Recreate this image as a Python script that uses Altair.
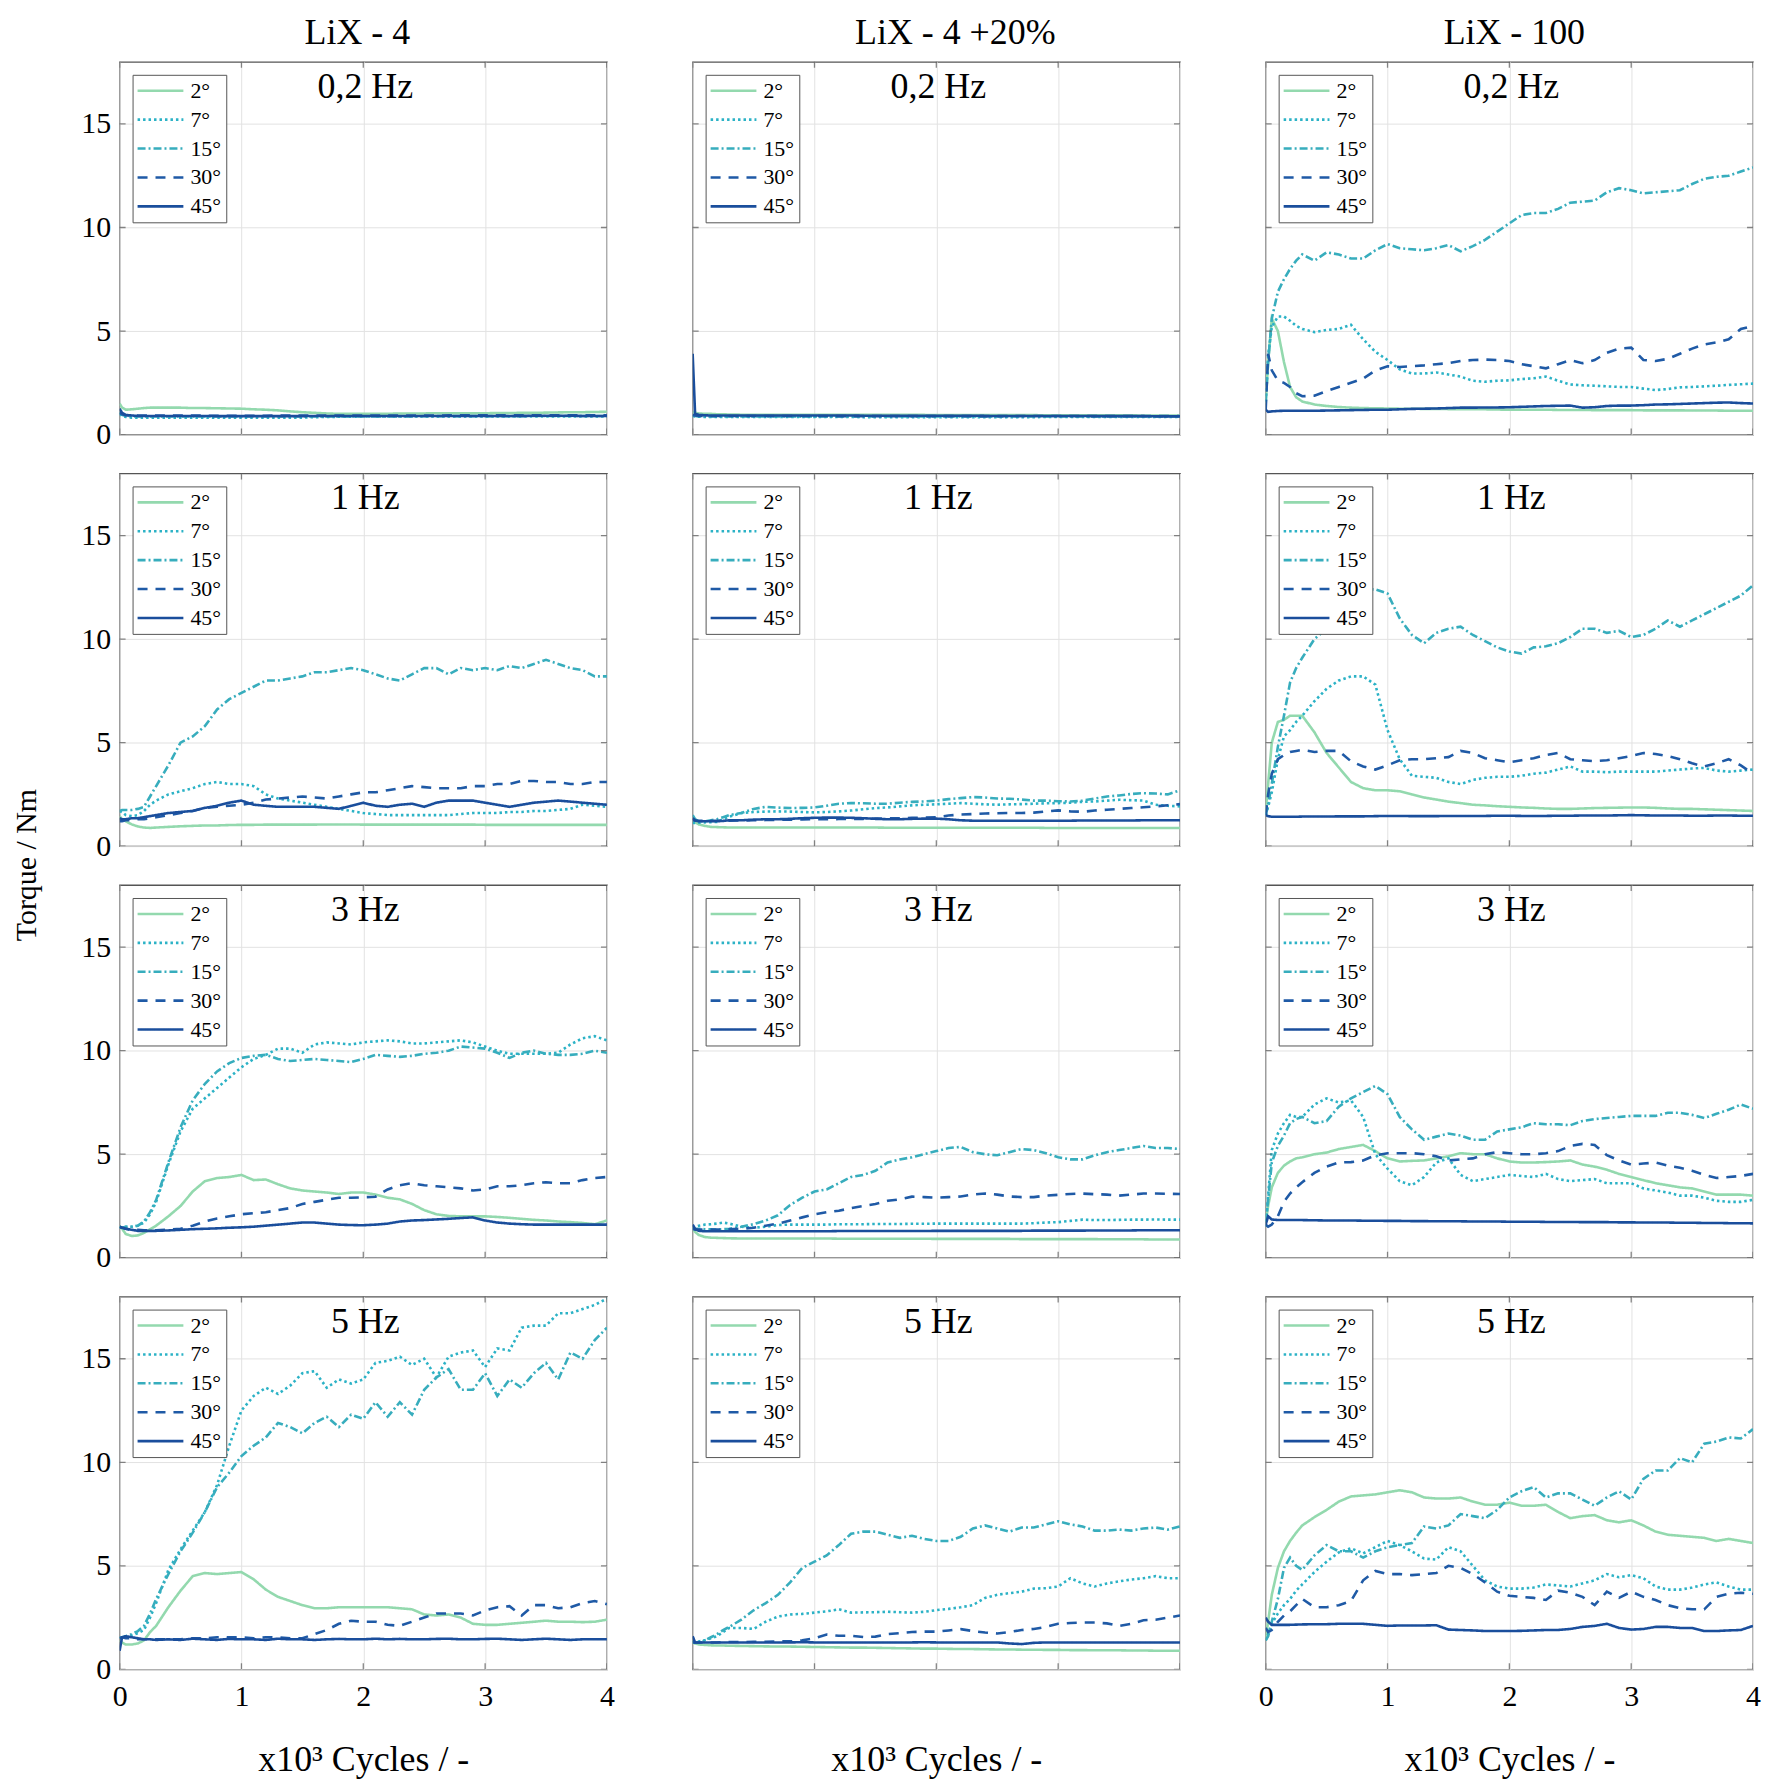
import altair as alt
import pandas as pd

FONT = "Liberation Serif"

# x positions (x10^3 cycles) shared by every series
X = [0, 0.02, 0.05, 0.1, 0.15, 0.2, 0.25, 0.3,
     0.4, 0.5, 0.6, 0.7, 0.8, 0.9, 1.0, 1.1, 1.2, 1.3, 1.4, 1.5, 1.6, 1.7, 1.8,
     1.9, 2.0, 2.1, 2.2, 2.3, 2.4, 2.5, 2.6, 2.7, 2.8, 2.9, 3.0, 3.1, 3.2, 3.3,
     3.4, 3.5, 3.6, 3.7, 3.8, 3.9, 4.0]

MATERIALS = ["LiX - 4", "LiX - 4 +20%", "LiX - 100"]
FREQS = ["0,2 Hz", "1 Hz", "3 Hz", "5 Hz"]
ANGLES = ["2°", "7°", "15°", "30°", "45°"]
COLORS = ["#93d9ae", "#2bb2c6", "#37adbd", "#1f5aa6", "#1a4e9c"]
DASHES = [[1, 0], [2.5, 3], [8, 3, 2, 3], [10, 8], [1, 0]]
Y_TICKS = [0, 5, 10, 15]
X_TICKS = [0, 1, 2, 3, 4]

# ---------------- LiX - 4, 0,2 Hz ----------------
A_F02_2 = [1.5, 1.3, 1.2, 1.22, 1.25, 1.28, 1.3, 1.3,
           1.3, 1.3, 1.28, 1.28, 1.27, 1.26, 1.25, 1.22, 1.2, 1.17, 1.12, 1.08, 1.05, 1.02, 1.0,
           1.0, 1.0, 1.0, 1.0, 1.02, 1.02, 1.02, 1.03, 1.03, 1.03, 1.03, 1.03, 1.04, 1.04, 1.05,
           1.05, 1.06, 1.07, 1.08, 1.08, 1.09, 1.1]
A_F02_7 = [1.0, 0.9, 0.85, 0.82, 0.82, 0.82, 0.82, 0.82,
           0.82, 0.82, 0.81, 0.81, 0.81, 0.81, 0.81, 0.81, 0.82, 0.82, 0.82, 0.82, 0.84, 0.85, 0.86,
           0.86, 0.87, 0.87, 0.87, 0.87, 0.88, 0.88, 0.88, 0.88, 0.88, 0.88, 0.88, 0.88, 0.88, 0.88,
           0.88, 0.88, 0.88, 0.88, 0.88, 0.88, 0.88]
A_F02_15 = [1.1, 0.95, 0.9, 0.88, 0.88, 0.88, 0.88, 0.88,
            0.88, 0.88, 0.87, 0.87, 0.87, 0.87, 0.87, 0.87, 0.87, 0.87, 0.87, 0.88, 0.88, 0.88, 0.88,
            0.88, 0.88, 0.88, 0.88, 0.88, 0.88, 0.89, 0.89, 0.89, 0.89, 0.89, 0.89, 0.89, 0.89, 0.89,
            0.9, 0.9, 0.9, 0.9, 0.9, 0.9, 0.9]
A_F02_30 = [1.05, 0.98, 0.93, 0.92, 0.92, 0.92, 0.92, 0.92,
            0.92, 0.92, 0.92, 0.91, 0.91, 0.91, 0.91, 0.91, 0.91, 0.92, 0.92, 0.92, 0.92, 0.92, 0.92,
            0.92, 0.92, 0.92, 0.92, 0.92, 0.92, 0.92, 0.92, 0.93, 0.93, 0.93, 0.93, 0.93, 0.93, 0.93,
            0.93, 0.93, 0.93, 0.93, 0.93, 0.93, 0.93]
A_F02_45 = [1.25, 1.05, 0.95, 0.92, 0.9, 0.9, 0.9, 0.9,
            0.9, 0.9, 0.9, 0.9, 0.89, 0.89, 0.89, 0.89, 0.89, 0.89, 0.89, 0.89, 0.9, 0.9, 0.9,
            0.9, 0.9, 0.9, 0.9, 0.9, 0.9, 0.9, 0.9, 0.9, 0.9, 0.9, 0.9, 0.9, 0.9, 0.9,
            0.91, 0.91, 0.91, 0.91, 0.9, 0.9, 0.9]

# ---------------- LiX - 4 +20%, 0,2 Hz ----------------
B_F02_2 = [1.1, 1.05, 1.02, 1.0, 1.0, 0.98, 0.98, 0.97,
           0.96, 0.96, 0.96, 0.96, 0.96, 0.96, 0.96, 0.95, 0.95, 0.95, 0.95, 0.95, 0.95, 0.95, 0.95,
           0.95, 0.94, 0.94, 0.94, 0.94, 0.94, 0.94, 0.94, 0.94, 0.94, 0.93, 0.93, 0.93, 0.93, 0.93,
           0.93, 0.93, 0.93, 0.92, 0.92, 0.92, 0.92]
B_F02_7 = [0.9, 0.88, 0.86, 0.85, 0.85, 0.85, 0.85, 0.85,
           0.85, 0.85, 0.85, 0.85, 0.85, 0.85, 0.85, 0.85, 0.85, 0.85, 0.84, 0.84, 0.84, 0.84, 0.84,
           0.84, 0.84, 0.84, 0.84, 0.84, 0.84, 0.84, 0.84, 0.84, 0.84, 0.85, 0.85, 0.85, 0.85, 0.85,
           0.85, 0.85, 0.85, 0.85, 0.85, 0.85, 0.85]
B_F02_15 = [0.95, 0.9, 0.88, 0.88, 0.88, 0.88, 0.88, 0.88,
            0.88, 0.88, 0.88, 0.87, 0.87, 0.87, 0.87, 0.87, 0.87, 0.87, 0.87, 0.87, 0.87, 0.87, 0.87,
            0.87, 0.87, 0.87, 0.87, 0.87, 0.88, 0.88, 0.88, 0.88, 0.88, 0.88, 0.88, 0.88, 0.88, 0.88,
            0.88, 0.88, 0.88, 0.88, 0.88, 0.88, 0.88]
B_F02_30 = [0.95, 0.92, 0.9, 0.9, 0.9, 0.9, 0.9, 0.9,
            0.9, 0.9, 0.9, 0.9, 0.9, 0.9, 0.9, 0.9, 0.89, 0.89, 0.89, 0.89, 0.89, 0.89, 0.89,
            0.89, 0.89, 0.89, 0.89, 0.89, 0.89, 0.89, 0.9, 0.9, 0.9, 0.9, 0.9, 0.9, 0.9, 0.9,
            0.9, 0.9, 0.9, 0.9, 0.9, 0.9, 0.9]
B_F02_45 = [3.9, 1.0, 0.95, 0.93, 0.92, 0.92, 0.92, 0.92,
            0.92, 0.92, 0.92, 0.92, 0.92, 0.92, 0.92, 0.92, 0.92, 0.92, 0.91, 0.91, 0.91, 0.91, 0.91,
            0.91, 0.91, 0.91, 0.91, 0.91, 0.9, 0.9, 0.9, 0.9, 0.9, 0.9, 0.9, 0.9, 0.9, 0.89,
            0.89, 0.89, 0.89, 0.89, 0.88, 0.88, 0.88]

# ---------------- LiX - 100, 0,2 Hz ----------------
C_F02_2 = [1.5, 3.5, 5.6, 5.0, 3.5, 2.3, 1.8, 1.6,
           1.45, 1.38, 1.33, 1.3, 1.28, 1.27, 1.26, 1.25, 1.25, 1.24, 1.24, 1.23, 1.23, 1.22, 1.22,
           1.21, 1.2, 1.2, 1.2, 1.2, 1.19, 1.19, 1.19, 1.18, 1.18, 1.18, 1.18, 1.17, 1.17, 1.17,
           1.17, 1.16, 1.16, 1.16, 1.15, 1.15, 1.15]
C_F02_7 = [1.6, 3.8, 5.2, 5.7, 5.7, 5.5, 5.25, 5.1,
           4.95, 5.05, 5.1, 5.3, 4.6, 4.0, 3.6, 3.15, 2.95, 2.95, 3.0, 2.9, 2.8, 2.6, 2.55,
           2.6, 2.62, 2.68, 2.72, 2.8, 2.6, 2.42, 2.38, 2.36, 2.33, 2.3, 2.3, 2.22, 2.15, 2.2,
           2.28, 2.3, 2.33, 2.36, 2.4, 2.43, 2.46]
C_F02_15 = [1.6, 3.5, 5.6, 6.9, 7.5, 8.0, 8.4, 8.7,
            8.4, 8.8, 8.7, 8.5, 8.5, 8.9, 9.2, 9.0, 8.95, 8.9, 9.0, 9.15, 8.85, 9.1, 9.4,
            9.8, 10.2, 10.6, 10.7, 10.7, 10.9, 11.2, 11.25, 11.3, 11.7, 11.9, 11.8, 11.65, 11.7, 11.75,
            11.8, 12.1, 12.35, 12.45, 12.5, 12.7, 12.9]
C_F02_30 = [1.2, 3.9, 3.1, 2.6, 2.5, 2.3, 2.0, 1.85,
            1.88, 2.1, 2.3, 2.5, 2.7, 3.1, 3.3, 3.26, 3.3, 3.34, 3.4, 3.45, 3.55, 3.6, 3.62,
            3.6, 3.55, 3.4, 3.3, 3.2, 3.4, 3.6, 3.45, 3.6, 3.95, 4.15, 4.2, 3.6, 3.55, 3.66,
            3.9, 4.15, 4.35, 4.45, 4.6, 5.1, 5.25]
C_F02_45 = [1.2, 1.1, 1.12, 1.14, 1.15, 1.15, 1.15, 1.15,
            1.15, 1.16, 1.17, 1.18, 1.19, 1.2, 1.2, 1.22, 1.24, 1.25, 1.26, 1.28, 1.3, 1.3, 1.31,
            1.31, 1.32, 1.34, 1.36, 1.38, 1.39, 1.4, 1.3, 1.32, 1.38, 1.4, 1.4, 1.42, 1.45, 1.46,
            1.48, 1.5, 1.52, 1.54, 1.55, 1.52, 1.5]

# ---------------- LiX - 4, 1 Hz ----------------
A_F1_2 = [1.45, 1.3, 1.2, 1.05, 0.95, 0.9, 0.88, 0.9,
          0.93, 0.96, 0.98, 1.0, 1.0, 1.02, 1.03, 1.03, 1.04, 1.04, 1.04, 1.04, 1.04, 1.05, 1.05,
          1.05, 1.04, 1.04, 1.04, 1.04, 1.04, 1.04, 1.04, 1.04, 1.04, 1.04, 1.03, 1.03, 1.03, 1.03,
          1.03, 1.03, 1.03, 1.03, 1.03, 1.03, 1.03]
A_F1_7 = [1.7, 1.65, 1.5, 1.45, 1.5, 1.7, 2.0, 2.2,
          2.5, 2.65, 2.8, 3.0, 3.1, 3.0, 3.0, 2.9, 2.5, 2.3, 2.2, 2.1, 2.0, 1.9, 1.8,
          1.7, 1.6, 1.55, 1.5, 1.5, 1.5, 1.5, 1.5, 1.5, 1.55, 1.6, 1.6, 1.6, 1.65, 1.65,
          1.7, 1.7, 1.75, 1.8, 2.0, 1.95, 1.9]
A_F1_15 = [1.7, 1.75, 1.75, 1.75, 1.8, 1.9, 2.4, 2.9,
           3.9, 5.0, 5.3, 5.8, 6.6, 7.1, 7.4, 7.7, 8.0, 8.0, 8.1, 8.2, 8.4, 8.4, 8.5,
           8.6, 8.5, 8.3, 8.1, 8.0, 8.3, 8.6, 8.6, 8.3, 8.6, 8.5, 8.6, 8.5, 8.7, 8.6,
           8.8, 9.0, 8.8, 8.6, 8.5, 8.2, 8.2]
A_F1_30 = [1.2, 1.2, 1.25, 1.25, 1.3, 1.3, 1.35, 1.4,
           1.5, 1.6, 1.7, 1.85, 1.9, 1.95, 2.0, 2.1, 2.25, 2.3, 2.35, 2.4, 2.35, 2.3, 2.4,
           2.5, 2.6, 2.6, 2.7, 2.8, 2.9, 2.85, 2.8, 2.8, 2.8, 2.9, 2.9, 3.0, 3.0, 3.15,
           3.15, 3.1, 3.1, 3.0, 3.0, 3.1, 3.1]
A_F1_45 = [1.35, 1.3, 1.3, 1.35, 1.35, 1.4, 1.45, 1.5,
           1.6, 1.65, 1.7, 1.85, 1.95, 2.1, 2.2, 2.0, 1.95, 1.9, 1.9, 1.9, 1.9, 1.85, 1.8,
           1.95, 2.1, 1.95, 1.9, 2.0, 2.05, 1.9, 2.1, 2.2, 2.2, 2.2, 2.1, 2.0, 1.9, 2.0,
           2.1, 2.15, 2.2, 2.15, 2.1, 2.05, 2.0]

# ---------------- LiX - 4 +20%, 1 Hz ----------------
B_F1_2 = [1.25, 1.15, 1.05, 0.98, 0.93, 0.92, 0.91, 0.9,
          0.9, 0.9, 0.9, 0.9, 0.9, 0.9, 0.9, 0.9, 0.9, 0.9, 0.9, 0.9, 0.89, 0.89, 0.89,
          0.89, 0.89, 0.89, 0.89, 0.89, 0.89, 0.89, 0.89, 0.89, 0.89, 0.88, 0.88, 0.88, 0.88, 0.88,
          0.88, 0.88, 0.88, 0.88, 0.88, 0.88, 0.88]
B_F1_7 = [1.12, 1.12, 1.13, 1.15, 1.16, 1.17, 1.3, 1.42,
          1.6, 1.65, 1.67, 1.68, 1.67, 1.65, 1.63, 1.65, 1.68, 1.72, 1.78, 1.84, 1.87, 1.92, 1.97,
          2.0, 2.02, 2.05, 2.08, 2.05, 2.02, 2.0, 2.02, 2.03, 2.05, 2.07, 2.08, 2.1, 2.14, 2.16,
          2.2, 2.24, 2.22, 2.2, 2.0, 1.95, 1.92]
B_F1_15 = [1.5, 1.3, 1.2, 1.2, 1.25, 1.3, 1.4, 1.5,
           1.6, 1.8, 1.9, 1.86, 1.84, 1.85, 1.87, 1.95, 2.05, 2.08, 2.07, 2.05, 2.05, 2.1, 2.14,
           2.16, 2.2, 2.27, 2.32, 2.37, 2.35, 2.3, 2.29, 2.25, 2.2, 2.2, 2.17, 2.16, 2.2, 2.3,
           2.4, 2.45, 2.52, 2.56, 2.54, 2.5, 2.7]
B_F1_30 = [1.25, 1.23, 1.22, 1.22, 1.22, 1.23, 1.23, 1.23,
           1.24, 1.25, 1.26, 1.27, 1.28, 1.29, 1.3, 1.3, 1.31, 1.31, 1.32, 1.33, 1.34, 1.35, 1.37,
           1.38, 1.4, 1.48, 1.53, 1.55, 1.58, 1.59, 1.6, 1.6, 1.62, 1.68, 1.73, 1.68, 1.66, 1.72,
           1.76, 1.8, 1.84, 1.88, 1.92, 1.98, 2.03]
B_F1_45 = [1.35, 1.25, 1.2, 1.2, 1.2, 1.2, 1.22, 1.25,
           1.25, 1.28, 1.3, 1.3, 1.32, 1.35, 1.37, 1.38, 1.38, 1.37, 1.35, 1.32, 1.3, 1.3, 1.32,
           1.33, 1.33, 1.3, 1.25, 1.23, 1.23, 1.23, 1.23, 1.23, 1.23, 1.23, 1.23, 1.23, 1.24, 1.24,
           1.24, 1.24, 1.24, 1.25, 1.25, 1.25, 1.25]

# ---------------- LiX - 100, 1 Hz ----------------
C_F1_2 = [1.7, 3.0, 5.0, 6.0, 6.1, 6.3, 6.3, 6.3,
          5.5, 4.5, 3.8, 3.1, 2.8, 2.7, 2.7, 2.65, 2.5, 2.35, 2.25, 2.15, 2.08, 2.0, 1.97,
          1.93, 1.9, 1.87, 1.85, 1.82, 1.8, 1.8, 1.82, 1.84, 1.85, 1.86, 1.87, 1.87, 1.85, 1.82,
          1.8, 1.8, 1.78, 1.76, 1.74, 1.72, 1.7]
C_F1_7 = [1.5, 1.9, 2.6, 4.2, 5.3, 5.6, 6.0, 6.3,
          7.0, 7.6, 8.0, 8.2, 8.2, 7.8, 5.6, 4.2, 3.4, 3.35, 3.3, 3.1, 3.0, 3.2, 3.3,
          3.35, 3.35, 3.4, 3.5, 3.55, 3.7, 3.85, 3.6, 3.6, 3.57, 3.6, 3.6, 3.6, 3.6, 3.65,
          3.7, 3.75, 3.78, 3.65, 3.6, 3.65, 3.7]
C_F1_15 = [1.5, 2.0, 3.0, 4.8, 6.3, 7.9, 8.6, 9.1,
           10.0, 10.5, 11.5, 12.3, 12.4, 12.4, 12.2, 11.0, 10.2, 9.8, 10.3, 10.5, 10.6, 10.2, 9.9,
           9.6, 9.4, 9.3, 9.6, 9.65, 9.8, 10.1, 10.5, 10.5, 10.3, 10.4, 10.1, 10.2, 10.5, 10.9,
           10.6, 10.9, 11.2, 11.5, 11.8, 12.1, 12.6]
C_F1_30 = [1.5, 2.5, 3.5, 4.2, 4.4, 4.55, 4.6, 4.65,
           4.55, 4.6, 4.6, 4.1, 3.85, 3.7, 3.9, 4.15, 4.2, 4.2, 4.25, 4.3, 4.6, 4.5, 4.25,
           4.15, 4.05, 4.15, 4.25, 4.4, 4.5, 4.2, 4.15, 4.1, 4.15, 4.25, 4.35, 4.5, 4.45, 4.35,
           4.2, 4.0, 3.85, 4.0, 4.2, 3.9, 3.5]
C_F1_45 = [1.5, 1.45, 1.42, 1.42, 1.42, 1.42, 1.42, 1.43,
           1.43, 1.43, 1.44, 1.44, 1.44, 1.45, 1.46, 1.46, 1.45, 1.45, 1.45, 1.46, 1.46, 1.46, 1.46,
           1.47, 1.47, 1.46, 1.46, 1.46, 1.47, 1.47, 1.48, 1.48, 1.48, 1.49, 1.5, 1.49, 1.48, 1.48,
           1.48, 1.47, 1.47, 1.48, 1.48, 1.47, 1.47]

# ---------------- LiX - 4, 3 Hz ----------------
A_F3_2 = [1.55, 1.4, 1.15, 1.05, 1.08, 1.2, 1.38, 1.55,
          2.0, 2.5, 3.2, 3.7, 3.85, 3.9, 4.0, 3.75, 3.78, 3.55, 3.35, 3.25, 3.2, 3.15, 3.08,
          3.15, 3.15, 3.05, 2.9, 2.82, 2.6, 2.3, 2.1, 2.02, 2.0, 2.0, 2.0, 1.97, 1.93, 1.88,
          1.83, 1.8, 1.75, 1.72, 1.68, 1.62, 1.8]
A_F3_7 = [1.45, 1.45, 1.5, 1.5, 1.55, 1.7, 2.1, 2.7,
          4.5, 6.1, 7.2, 7.7, 8.2, 8.7, 9.2, 9.6, 9.8, 10.1, 10.1, 9.9, 10.3, 10.4, 10.35,
          10.3, 10.4, 10.45, 10.5, 10.45, 10.35, 10.35, 10.4, 10.45, 10.5, 10.4, 10.2, 10.0, 9.85, 9.85,
          9.85, 9.85, 9.9, 10.3, 10.6, 10.7, 10.5]
A_F3_15 = [1.45, 1.45, 1.5, 1.5, 1.55, 1.75, 2.2, 2.8,
           4.6, 6.3, 7.6, 8.4, 9.0, 9.4, 9.65, 9.75, 9.8, 9.6, 9.5, 9.55, 9.6, 9.55, 9.5,
           9.45, 9.6, 9.8, 9.75, 9.7, 9.75, 9.85, 9.9, 10.0, 10.2, 10.15, 10.1, 9.9, 9.65, 9.9,
           10.0, 9.85, 9.8, 9.8, 9.85, 10.0, 9.9]
A_F3_30 = [1.5, 1.45, 1.4, 1.35, 1.35, 1.33, 1.33, 1.33,
           1.35, 1.4, 1.55, 1.75, 1.9, 2.0, 2.1, 2.15, 2.2, 2.3, 2.4, 2.6, 2.7, 2.8, 2.9,
           2.9, 2.92, 2.95, 3.3, 3.5, 3.6, 3.5, 3.45, 3.4, 3.35, 3.25, 3.3, 3.45, 3.45, 3.5,
           3.6, 3.65, 3.6, 3.6, 3.75, 3.85, 3.9]
A_F3_45 = [1.5, 1.45, 1.4, 1.35, 1.3, 1.3, 1.3, 1.3,
           1.32, 1.35, 1.38, 1.4, 1.42, 1.45, 1.47, 1.5, 1.55, 1.6, 1.65, 1.7, 1.7, 1.65, 1.6,
           1.58, 1.57, 1.6, 1.65, 1.75, 1.8, 1.82, 1.85, 1.88, 1.92, 1.95, 1.8, 1.7, 1.65, 1.62,
           1.6, 1.6, 1.6, 1.6, 1.6, 1.6, 1.6]

# ---------------- LiX - 4 +20%, 3 Hz ----------------
B_F3_2 = [1.4, 1.25, 1.1, 1.0, 0.97, 0.96, 0.95, 0.94,
          0.93, 0.93, 0.93, 0.93, 0.93, 0.93, 0.93, 0.93, 0.92, 0.92, 0.92, 0.92, 0.92, 0.92, 0.92,
          0.92, 0.91, 0.91, 0.91, 0.91, 0.91, 0.91, 0.91, 0.9, 0.9, 0.9, 0.9, 0.9, 0.9, 0.9,
          0.89, 0.89, 0.89, 0.89, 0.88, 0.88, 0.88]
B_F3_7 = [1.45, 1.5, 1.55, 1.6, 1.62, 1.65, 1.7, 1.65,
          1.5, 1.45, 1.5, 1.58, 1.6, 1.6, 1.6, 1.6, 1.62, 1.62, 1.62, 1.63, 1.63, 1.63, 1.64,
          1.64, 1.65, 1.65, 1.65, 1.65, 1.65, 1.65, 1.65, 1.65, 1.67, 1.7, 1.72, 1.78, 1.84, 1.82,
          1.82, 1.83, 1.84, 1.84, 1.85, 1.84, 1.84]
B_F3_15 = [1.45, 1.4, 1.4, 1.38, 1.37, 1.36, 1.38, 1.4,
           1.5, 1.62, 1.8, 2.05, 2.55, 2.9, 3.2, 3.3, 3.6, 3.9, 4.0, 4.2, 4.6, 4.75, 4.85,
           5.0, 5.15, 5.3, 5.35, 5.1, 5.0, 4.95, 5.1, 5.25, 5.2, 5.05, 4.85, 4.75, 4.75, 4.95,
           5.1, 5.2, 5.3, 5.4, 5.3, 5.3, 5.25]
B_F3_30 = [1.4, 1.36, 1.36, 1.36, 1.36, 1.36, 1.36, 1.38,
           1.4, 1.45, 1.55, 1.65, 1.8, 1.95, 2.1, 2.2, 2.27, 2.4, 2.5, 2.6, 2.75, 2.82, 2.95,
           2.93, 2.9, 2.93, 2.96, 3.05, 3.1, 3.05, 2.96, 2.93, 2.93, 3.0, 3.04, 3.08, 3.1, 3.07,
           3.05, 3.0, 3.05, 3.1, 3.1, 3.09, 3.08]
B_F3_45 = [1.6, 1.4, 1.3, 1.28, 1.28, 1.28, 1.28, 1.28,
           1.28, 1.28, 1.28, 1.28, 1.28, 1.28, 1.28, 1.28, 1.29, 1.29, 1.29, 1.29, 1.29, 1.29, 1.29,
           1.29, 1.3, 1.3, 1.3, 1.3, 1.3, 1.3, 1.3, 1.3, 1.31, 1.31, 1.31, 1.31, 1.31, 1.32,
           1.32, 1.32, 1.32, 1.33, 1.33, 1.33, 1.33]

# ---------------- LiX - 100, 3 Hz ----------------
C_F3_2 = [1.7, 2.5, 3.4, 4.1, 4.45, 4.65, 4.8, 4.85,
          5.0, 5.08, 5.25, 5.35, 5.45, 5.15, 4.8, 4.65, 4.68, 4.7, 4.8, 4.9, 5.05, 5.0, 5.0,
          4.8, 4.65, 4.6, 4.6, 4.62, 4.65, 4.7, 4.5, 4.4, 4.25, 4.05, 3.9, 3.75, 3.6, 3.5,
          3.4, 3.35, 3.2, 3.05, 3.05, 3.05, 3.0]
C_F3_7 = [1.5, 3.0, 5.2, 6.0, 6.5, 6.9, 6.8, 6.8,
          7.4, 7.7, 7.5, 7.6, 6.8, 5.0, 4.3, 3.7, 3.5, 3.9, 4.6, 4.8, 4.0, 3.7, 3.8,
          3.9, 4.0, 3.95, 3.9, 4.05, 3.8, 3.7, 3.75, 3.8, 3.6, 3.6, 3.6, 3.35, 3.25, 3.15,
          3.0, 3.0, 2.9, 2.75, 2.7, 2.7, 2.8]
C_F3_15 = [1.7, 2.8, 4.6, 5.4, 5.9, 6.5, 6.7, 6.8,
           6.5, 6.6, 7.3, 7.7, 8.0, 8.3, 7.9, 6.8, 6.2, 5.7, 5.85, 6.0, 5.9, 5.7, 5.7,
           6.1, 6.2, 6.3, 6.5, 6.45, 6.45, 6.4, 6.6, 6.7, 6.75, 6.8, 6.85, 6.85, 6.85, 7.0,
           7.0, 6.9, 6.75, 6.95, 7.15, 7.4, 7.2]
C_F3_30 = [1.6, 1.5, 1.6, 2.0, 2.7, 3.1, 3.4, 3.65,
           4.1, 4.4, 4.6, 4.62, 4.7, 4.95, 5.05, 5.05, 5.05, 5.0, 4.9, 4.7, 4.75, 4.8, 5.0,
           5.1, 5.05, 5.0, 5.0, 5.05, 5.15, 5.4, 5.5, 5.45, 4.95, 4.7, 4.5, 4.55, 4.6, 4.45,
           4.35, 4.2, 4.0, 3.85, 3.9, 3.95, 4.05]
C_F3_45 = [1.6, 2.0, 1.85, 1.82, 1.82, 1.82, 1.82, 1.82,
           1.81, 1.8, 1.8, 1.8, 1.79, 1.79, 1.78, 1.78, 1.77, 1.77, 1.76, 1.76, 1.76, 1.75, 1.75,
           1.75, 1.74, 1.74, 1.74, 1.73, 1.73, 1.73, 1.72, 1.72, 1.72, 1.71, 1.71, 1.7, 1.7, 1.7,
           1.69, 1.69, 1.68, 1.68, 1.67, 1.67, 1.66]

# ---------------- LiX - 4, 5 Hz ----------------
A_F5_2 = [1.4, 1.3, 1.2, 1.2, 1.25, 1.4, 1.8, 2.1,
          3.0, 3.8, 4.5, 4.65, 4.6, 4.65, 4.7, 4.35, 3.85, 3.5, 3.3, 3.1, 2.95, 2.95, 3.0,
          3.0, 3.0, 3.0, 3.0, 2.95, 2.9, 2.65, 2.6, 2.65, 2.5, 2.2, 2.15, 2.15, 2.2, 2.25,
          2.3, 2.35, 2.3, 2.3, 2.28, 2.3, 2.4]
A_F5_7 = [1.5, 1.55, 1.6, 1.65, 1.75, 1.9, 2.5, 3.2,
          4.8, 5.8, 6.7, 7.6, 8.9, 10.8, 12.5, 13.2, 13.6, 13.3, 13.7, 14.3, 14.4, 13.6, 14.0,
          13.8, 14.0, 14.8, 14.9, 15.1, 14.7, 15.0, 14.1, 15.1, 15.3, 15.4, 14.6, 15.5, 15.4, 16.5,
          16.6, 16.6, 17.2, 17.2, 17.4, 17.6, 17.9]
A_F5_15 = [1.5, 1.55, 1.6, 1.7, 1.85, 2.1, 2.7, 3.4,
           4.6, 5.7, 6.6, 7.6, 8.8, 9.5, 10.3, 10.8, 11.2, 11.9, 11.7, 11.4, 11.9, 12.2, 11.7,
           12.3, 12.1, 12.9, 12.2, 12.9, 12.3, 13.5, 14.1, 14.5, 13.5, 13.5, 14.3, 13.2, 14.0, 13.6,
           14.3, 14.8, 14.0, 15.3, 15.0, 15.9, 16.5]
A_F5_30 = [1.5, 1.55, 1.5, 1.5, 1.45, 1.45, 1.45, 1.45,
           1.45, 1.45, 1.5, 1.5, 1.55, 1.55, 1.55, 1.5, 1.55, 1.55, 1.5, 1.5, 1.7, 1.9, 2.2,
           2.35, 2.3, 2.3, 2.15, 2.1, 2.3, 2.5, 2.7, 2.7, 2.7, 2.6, 2.85, 3.0, 3.05, 2.6,
           3.1, 3.1, 2.95, 3.0, 3.2, 3.3, 3.15]
A_F5_45 = [0.9, 1.55, 1.6, 1.55, 1.5, 1.45, 1.45, 1.42,
           1.45, 1.42, 1.48, 1.45, 1.42, 1.47, 1.45, 1.45, 1.42, 1.48, 1.45, 1.45, 1.42, 1.45, 1.47,
           1.45, 1.45, 1.48, 1.45, 1.47, 1.45, 1.45, 1.47, 1.48, 1.45, 1.45, 1.47, 1.48, 1.45, 1.42,
           1.45, 1.48, 1.45, 1.42, 1.45, 1.45, 1.45]

# ---------------- LiX - 4 +20%, 5 Hz ----------------
B_F5_2 = [1.3, 1.25, 1.2, 1.18, 1.16, 1.15, 1.15, 1.14,
          1.13, 1.12, 1.11, 1.1, 1.1, 1.09, 1.08, 1.07, 1.06, 1.05, 1.05, 1.04, 1.03, 1.02, 1.01,
          1.0, 1.0, 0.99, 0.98, 0.98, 0.97, 0.96, 0.96, 0.95, 0.95, 0.94, 0.94, 0.93, 0.93, 0.92,
          0.92, 0.92, 0.91, 0.91, 0.9, 0.9, 0.9]
B_F5_7 = [1.3, 1.3, 1.35, 1.4, 1.5, 1.6, 1.8, 2.0,
          2.0, 1.95, 2.3, 2.55, 2.65, 2.68, 2.74, 2.8, 2.9, 2.74, 2.75, 2.76, 2.78, 2.76, 2.74,
          2.78, 2.86, 2.92, 3.0, 3.1, 3.45, 3.6, 3.68, 3.75, 3.9, 3.92, 4.0, 4.4, 4.15, 4.0,
          4.15, 4.25, 4.34, 4.4, 4.5, 4.4, 4.4]
B_F5_15 = [1.4, 1.3, 1.3, 1.4, 1.55, 1.7, 1.9, 2.05,
           2.4, 2.85, 3.2, 3.6, 4.2, 4.9, 5.2, 5.5, 6.0, 6.55, 6.65, 6.65, 6.5, 6.35, 6.45,
           6.3, 6.2, 6.2, 6.4, 6.8, 6.95, 6.8, 6.65, 6.85, 6.85, 7.0, 7.15, 7.0, 6.9, 6.7,
           6.7, 6.75, 6.7, 6.8, 6.85, 6.75, 6.9]
B_F5_30 = [1.3, 1.3, 1.3, 1.3, 1.3, 1.3, 1.32, 1.32,
           1.32, 1.33, 1.33, 1.35, 1.35, 1.4, 1.5, 1.68, 1.62, 1.62, 1.56, 1.58, 1.7, 1.75, 1.8,
           1.82, 1.82, 1.88, 1.94, 1.85, 1.78, 1.73, 1.8, 1.9, 1.95, 2.05, 2.2, 2.24, 2.26, 2.26,
           2.22, 2.1, 2.2, 2.37, 2.4, 2.5, 2.6]
B_F5_45 = [1.6, 1.3, 1.3, 1.3, 1.3, 1.3, 1.3, 1.3,
           1.3, 1.3, 1.3, 1.3, 1.3, 1.31, 1.3, 1.3, 1.3, 1.3, 1.3, 1.3, 1.3, 1.3, 1.3,
           1.31, 1.3, 1.3, 1.3, 1.3, 1.3, 1.3, 1.25, 1.22, 1.28, 1.3, 1.3, 1.3, 1.3, 1.3,
           1.3, 1.3, 1.3, 1.3, 1.3, 1.3, 1.3]

# ---------------- LiX - 100, 5 Hz ----------------
C_F5_2 = [1.5, 2.3, 3.6, 4.9, 5.7, 6.2, 6.6, 6.95,
          7.35, 7.7, 8.1, 8.35, 8.4, 8.45, 8.55, 8.65, 8.55, 8.3, 8.25, 8.25, 8.3, 8.1, 7.95,
          7.95, 8.05, 7.9, 7.9, 7.95, 7.6, 7.3, 7.4, 7.45, 7.2, 7.1, 7.2, 6.95, 6.65, 6.5,
          6.45, 6.4, 6.35, 6.2, 6.3, 6.2, 6.1]
C_F5_7 = [1.4, 1.7, 2.2, 2.7, 3.1, 3.4, 3.8, 4.1,
          4.7, 5.2, 5.65, 5.85, 5.6, 5.9, 6.2, 6.0, 5.7, 5.35, 5.3, 5.9, 5.7, 5.0, 4.3,
          4.0, 3.9, 3.9, 3.95, 4.1, 4.05, 4.0, 4.15, 4.3, 4.6, 4.45, 4.55, 4.4, 4.0, 3.85,
          3.85, 3.95, 4.1, 4.2, 4.0, 3.85, 3.85]
C_F5_15 = [1.4, 1.6, 2.3, 3.4, 4.9, 5.4, 5.0, 4.8,
           5.5, 6.0, 5.7, 5.7, 5.4, 5.7, 5.9, 6.0, 6.1, 6.9, 6.8, 6.95, 7.5, 7.4, 7.3,
           7.7, 8.3, 8.6, 8.8, 8.3, 8.5, 8.5, 8.2, 7.9, 8.3, 8.6, 8.2, 9.2, 9.6, 9.6,
           10.2, 10.0, 10.9, 11.0, 11.2, 11.15, 11.6]
C_F5_30 = [2.0, 1.8, 1.9, 2.3, 2.6, 2.8, 3.1, 3.4,
           3.0, 3.0, 3.1, 3.3, 4.3, 4.75, 4.6, 4.6, 4.55, 4.6, 4.65, 5.0, 4.9, 4.6, 4.2,
           3.75, 3.55, 3.5, 3.45, 3.35, 3.8, 3.7, 3.5, 3.1, 3.75, 3.45, 3.75, 3.5, 3.35, 3.1,
           2.95, 2.9, 2.9, 3.5, 3.65, 3.7, 3.65]
C_F5_45 = [2.5, 2.3, 2.15, 2.15, 2.15, 2.15, 2.16, 2.17,
           2.18, 2.18, 2.2, 2.2, 2.2, 2.15, 2.1, 2.12, 2.12, 2.12, 2.13, 1.92, 1.9, 1.88, 1.85,
           1.85, 1.85, 1.86, 1.88, 1.9, 1.9, 1.95, 2.05, 2.1, 2.2, 2.0, 1.92, 1.95, 2.05, 2.05,
           2.0, 2.0, 1.85, 1.85, 1.88, 1.9, 2.1]

# panel (row = frequency, column = material) -> series in ANGLES order
SERIES = {
    (0, 0): [A_F02_2, A_F02_7, A_F02_15, A_F02_30, A_F02_45],
    (0, 1): [B_F02_2, B_F02_7, B_F02_15, B_F02_30, B_F02_45],
    (0, 2): [C_F02_2, C_F02_7, C_F02_15, C_F02_30, C_F02_45],
    (1, 0): [A_F1_2, A_F1_7, A_F1_15, A_F1_30, A_F1_45],
    (1, 1): [B_F1_2, B_F1_7, B_F1_15, B_F1_30, B_F1_45],
    (1, 2): [C_F1_2, C_F1_7, C_F1_15, C_F1_30, C_F1_45],
    (2, 0): [A_F3_2, A_F3_7, A_F3_15, A_F3_30, A_F3_45],
    (2, 1): [B_F3_2, B_F3_7, B_F3_15, B_F3_30, B_F3_45],
    (2, 2): [C_F3_2, C_F3_7, C_F3_15, C_F3_30, C_F3_45],
    (3, 0): [A_F5_2, A_F5_7, A_F5_15, A_F5_30, A_F5_45],
    (3, 1): [B_F5_2, B_F5_7, B_F5_15, B_F5_30, B_F5_45],
    (3, 2): [C_F5_2, C_F5_7, C_F5_15, C_F5_30, C_F5_45],
}

W, H = 489, 374
TITLE_DX = [-6, 19, 5]
FRAME = "#555555"
XSCALE = alt.Scale(domain=[0, 4], nice=False)
YSCALE = alt.Scale(domain=[0, 18], nice=False)


def text_layer(label, size, x, y, **kw):
    return alt.Chart(pd.DataFrame({"t": [label]})).mark_text(
        font=FONT, fontSize=size, color="black", **kw
    ).encode(text="t:N", x=alt.value(x), y=alt.value(y))


def panel(r, c):
    rows = []
    for ang, vals in zip(ANGLES, SERIES[(r, c)]):
        assert len(vals) == len(X), (r, c, ang, len(vals))
        rows += [{"x": xv, "y": yv, "angle": ang} for xv, yv in zip(X, vals)]
    df = pd.DataFrame(rows)

    bottom = r == 3
    xkw = dict(values=X_TICKS, grid=True, ticks=False, tickSize=0, domain=False,
               labels=bottom and c != 1, labelFlush=False, labelFontSize=30,
               labelFont=FONT, labelPadding=12, labelColor="black")
    if bottom:
        xkw.update(title="x10³ Cycles / -", titleFont=FONT, titleFontSize=36,
                   titleFontWeight="normal", titleColor="black", titleY=73,
                   titleBaseline="top")
    else:
        xkw.update(title=None)
    ykw = dict(values=Y_TICKS, grid=True, ticks=False, tickSize=0, domain=False,
               labels=c == 0, labelFontSize=30, labelFont=FONT, labelPadding=9,
               labelColor="black", title=None)
    xaxis = alt.Axis(**xkw)
    yaxis = alt.Axis(**ykw)

    leg = alt.Legend(title=None, orient="top-left", offset=13, padding=5,
                     fillColor="white", strokeColor=FRAME,
                     symbolType="M-3.83,0H3.83", symbolSize=144, symbolStrokeWidth=2.6,
                     symbolOffset=12, labelOffset=19, labelFont=FONT, labelFontSize=22,
                     labelColor="black", rowPadding=7)

    lines = alt.Chart(df).mark_line(strokeWidth=2.6, clip=True).encode(
        x=alt.X("x:Q", scale=XSCALE, axis=xaxis),
        y=alt.Y("y:Q", scale=YSCALE, axis=yaxis),
        color=alt.Color("angle:N", scale=alt.Scale(domain=ANGLES, range=COLORS), legend=leg),
        strokeDash=alt.StrokeDash("angle:N", scale=alt.Scale(domain=ANGLES, range=DASHES),
                                  legend=leg),
    )
    layers = [lines]

    # short inward tick marks on all four sides of the frame (MATLAB style)
    xt = pd.DataFrame({"x": X_TICKS})
    yt = pd.DataFrame({"y": Y_TICKS})
    for ypix in (0, H):
        layers.append(alt.Chart(xt).mark_tick(size=12, thickness=1.3, color=FRAME, clip=True)
                      .encode(x=alt.X("x:Q", scale=XSCALE, axis=xaxis), y=alt.value(ypix)))
    for xpix in (0, W):
        layers.append(alt.Chart(yt).mark_tick(size=12, thickness=1.3, color=FRAME, clip=True)
                      .encode(y=alt.Y("y:Q", scale=YSCALE, axis=yaxis), x=alt.value(xpix)))

    layers.append(text_layer(FREQS[r], 36, W / 2 + 2, 25, align="center", baseline="middle"))
    if r == 0:
        layers.append(text_layer(MATERIALS[c], 36, W / 2 + TITLE_DX[c], -18,
                                 align="center", baseline="alphabetic"))
    if r == 1 and c == 0:
        layers.append(text_layer("Torque / Nm", 30, -93, H + 19, align="center",
                                 baseline="middle", angle=270))
    return alt.layer(*layers).properties(width=W, height=H)


panels = [panel(r, c) for r in range(4) for c in range(3)]

chart = alt.concat(
    *panels, columns=3, spacing={"row": 39, "column": 86}, bounds="flush"
).resolve_scale(
    color="independent", strokeDash="independent"
).resolve_legend(
    color="independent", strokeDash="independent"
).properties(
    padding={"left": 3, "top": 3, "right": 0, "bottom": 0}
).configure_view(
    stroke=FRAME, strokeWidth=1.3
).configure_axis(
    gridColor="#e2e2e2", gridWidth=1
)

chart.save("out.html", embed_options={"renderer": "svg", "actions": False})
